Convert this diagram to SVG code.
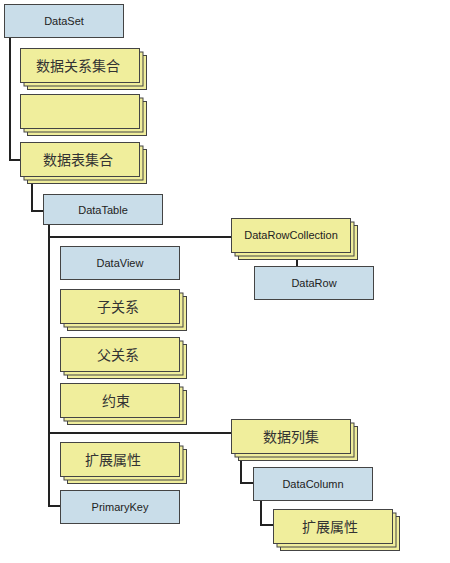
<svg xmlns="http://www.w3.org/2000/svg" width="450" height="563" viewBox="0 0 450 563">
<style>
.b{fill:#c9dde9;stroke:#444;stroke-width:1}
.y{fill:#f0ee9c;stroke:#444;stroke-width:1}
.t{font-family:"Liberation Sans",Arial,sans-serif;font-size:11px;fill:#222;text-anchor:middle;dominant-baseline:central}
.c{font-family:"Noto Sans CJK SC","Noto Sans CJK JP",sans-serif;font-size:14px;fill:#333;text-anchor:middle;dominant-baseline:central}
.ln{fill:none;stroke:#222;stroke-width:2}
</style>
<defs>
<g id="stk">
<rect class="y" x="7" y="7" width="119" height="34"/>
<rect class="y" x="3.5" y="3.5" width="119" height="34"/>
<rect class="y" x="0" y="0" width="119" height="34"/>
</g>
</defs>
<rect width="450" height="563" fill="#fff"/>
<g id="connectors">
<polyline class="ln" points="10,37 10,160 20,160"/>
<polyline class="ln" points="32,180 32,211 43,211"/>
<polyline class="ln" points="49,224 49,506 60,506"/>
<line class="ln" x1="49" y1="237" x2="232" y2="237"/>
<line class="ln" x1="49" y1="433" x2="231" y2="433"/>
<line class="ln" x1="297" y1="255" x2="297" y2="266"/>
<polyline class="ln" points="241,456 241,483 253,483"/>
<polyline class="ln" points="261,500 261,525 273,525"/>
</g>
<g id="dataset"><rect class="b" x="4.5" y="4.5" width="119" height="33"/><text class="t" x="64" y="21">DataSet</text></g>
<g id="relations"><use href="#stk" x="20.5" y="48.5"/><text class="c" x="78" y="65">数据关系集合</text></g>
<g id="empty"><use href="#stk" x="20.5" y="94.5"/></g>
<g id="tables"><use href="#stk" x="20.5" y="142.5"/><text class="c" x="78" y="159">数据表集合</text></g>
<g id="datatable"><rect class="b" x="43.5" y="194.5" width="119" height="30"/><text class="t" x="103" y="210">DataTable</text></g>
<g id="dataview"><rect class="b" x="60.5" y="246.5" width="119" height="33"/><text class="t" x="120" y="263">DataView</text></g>
<g id="childrel"><use href="#stk" x="60.5" y="289.5"/><text class="c" x="118" y="306">子关系</text></g>
<g id="parentrel"><use href="#stk" x="60.5" y="337.5"/><text class="c" x="118" y="354">父关系</text></g>
<g id="constraints"><use href="#stk" x="60.5" y="383.5"/><text class="c" x="116" y="400">约束</text></g>
<g id="extprops1"><use href="#stk" x="60.5" y="442.5"/><text class="c" x="113" y="459">扩展属性</text></g>
<g id="primarykey"><rect class="b" x="60.5" y="490.5" width="119" height="33"/><text class="t" x="120" y="507">PrimaryKey</text></g>
<g id="rowcoll"><use href="#stk" x="231.5" y="218.5"/><text class="t" x="291" y="235">DataRowCollection</text></g>
<g id="datarow"><rect class="b" x="254.5" y="266.5" width="119" height="33"/><text class="t" x="314" y="283">DataRow</text></g>
<g id="columns"><use href="#stk" x="231.5" y="419.5"/><text class="c" x="291" y="436">数据列集</text></g>
<g id="datacolumn"><rect class="b" x="253.5" y="467.5" width="119" height="33"/><text class="t" x="313" y="484">DataColumn</text></g>
<g id="extprops2"><use href="#stk" x="273.5" y="509.5"/><text class="c" x="330" y="526">扩展属性</text></g>
</svg>
